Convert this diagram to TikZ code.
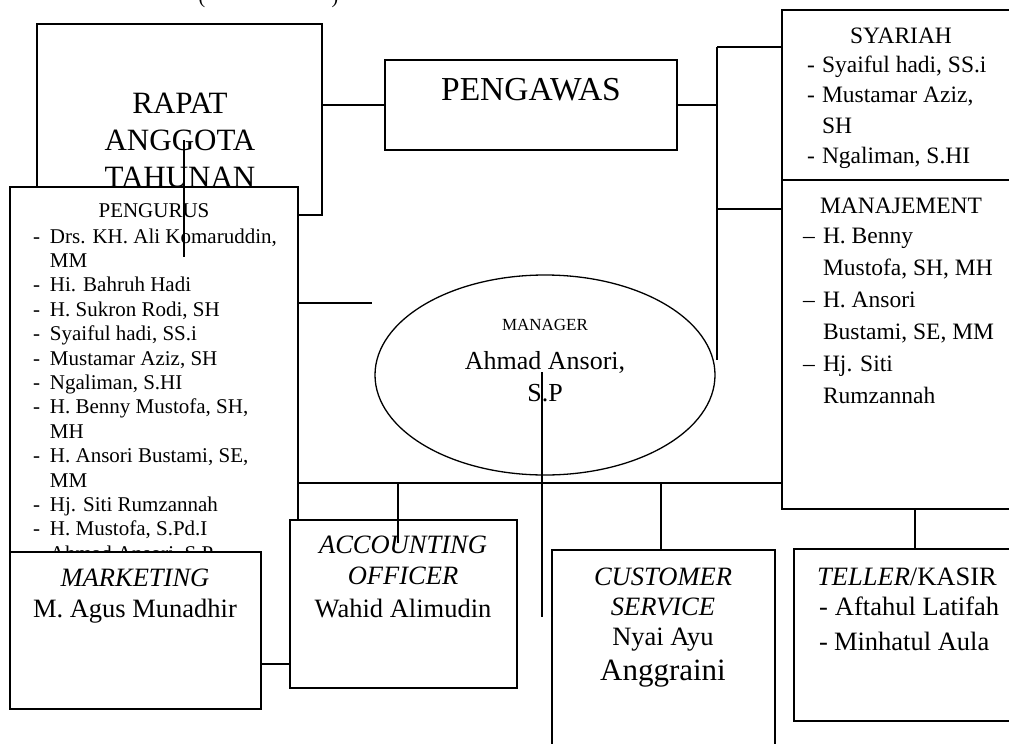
\documentclass[tikz,border=0pt]{standalone}
\usepackage{fontspec}
\setmainfont{Liberation Serif}
\usetikzlibrary{shapes.geometric}
\newcommand{\dl}[2][17pt]{\makebox[#1][l]{-}#2}
\newcommand{\ndl}[1]{\makebox[20pt][l]{\textendash}#1}
\newcommand{\cl}[2][17pt]{\hspace*{#1}#2}
\newcommand{\fs}[2]{\fontsize{#1}{#2}\selectfont}
\begin{document}
\begin{tikzpicture}[x=1pt,y=-1pt,line width=1.3pt,
  box/.style={draw,fill=white,rectangle,inner sep=0pt,outer sep=0pt,anchor=north west},
  txt/.style={inner sep=0pt,outer sep=0pt,anchor=base},
  ltxt/.style={inner sep=0pt,outer sep=0pt,anchor=base west}]
\useasboundingbox (0,0) rectangle (1009,744);
% top partial title parentheses
\node[txt] (lp) at (202,4) {\fs{20}{24}(};
\node[txt] (rp) at (335,4) {\fs{20}{24})};
% Rapat
\node[box,minimum width=285pt,minimum height=191pt] (rapat) at (37,24) {};
\node[txt] (rapatT) at (180,113) {\parbox[t]{250pt}{\centering\fs{31}{37}RAPAT\\ANGGOTA\\TAHUNAN}};
% Pengawas
\node[box,minimum width=292pt,minimum height=90pt] (pengawas) at (385,60) {};
\node[txt] (pengawasT) at (531,100) {\fs{33.5}{38}PENGAWAS};
% Syariah / Manajement
\node[box,minimum width=238pt,minimum height=170pt] (syariah) at (782,10) {};
\node[txt] (syariahT) at (901,43) {\fs{23.5}{30}SYARIAH};
\node[ltxt] (syariahL) at (807,72) {\parbox[t]{200pt}{\fs{23.5}{30.5}\dl[15pt]{Syaiful hadi, SS.i}\\\dl[15pt]{Mustamar Aziz,}\\\cl[15pt]{SH}\\\dl[15pt]{Ngaliman, S.HI}}};
\node[box,minimum width=238pt,minimum height=329pt] (manaj) at (782,180) {};
\node[txt] (manajT) at (901,213) {\fs{23.5}{30}MANAJEMENT};
\node[ltxt] (manajL) at (803,243) {\parbox[t]{200pt}{\fs{23.5}{32}\ndl{H. Benny}\\\cl[20pt]{Mustofa, SH, MH}\\\ndl{H. Ansori}\\\cl[20pt]{Bustami, SE, MM}\\\ndl{Hj. Siti}\\\cl[20pt]{Rumzannah}}};
% Pengurus
\node[box,minimum width=288pt,minimum height=477pt] (pengurus) at (10,187) {};
\node[txt] (pengurusT) at (154,217) {\fs{21}{24.4}PENGURUS};
\node[ltxt] (pengurusL) at (33,243) {\parbox[t]{262pt}{\fs{21}{24.4}\dl{Drs. KH. Ali Komaruddin,}\\\cl{MM}\\\dl{Hi. Bahruh Hadi}\\\dl{H. Sukron Rodi, SH}\\\dl{Syaiful hadi, SS.i}\\\dl{Mustamar Aziz, SH}\\\dl{Ngaliman, S.HI}\\\dl{H. Benny Mustofa, SH,}\\\cl{MH}\\\dl{H. Ansori Bustami, SE,}\\\cl{MM}\\\dl{Hj. Siti Rumzannah}\\\dl{H. Mustofa, S.Pd.I}\\\dl{Ahmad Ansori, S.P}}};
% Manager
\node[draw,ellipse,minimum width=340pt,minimum height=200pt,inner sep=0pt] (mgr) at (545,375) {};
\node[txt] (mgrT) at (545,330) {\fs{17}{20}MANAGER};
\node[txt] (mgrN) at (545,369) {\parbox[t]{200pt}{\centering\fs{26}{32}Ahmad Ansori,\\S.P}};
% Bottom boxes
\node[box,minimum width=251pt,minimum height=157pt] (marketing) at (10,552) {};
\node[txt] (marketingT) at (135,586) {\parbox[t]{240pt}{\centering\fs{26.5}{31}\textit{MARKETING}\\M. Agus Munadhir}};
\node[box,minimum width=227pt,minimum height=168pt] (accounting) at (290,520) {};
\node[txt] (accountingT) at (403,553) {\parbox[t]{220pt}{\centering\fs{26.5}{31}\textit{ACCOUNTING}\\\textit{OFFICER}\\[2pt]Wahid Alimudin}};
\node[box,minimum width=223pt,minimum height=220pt] (cs) at (552,550) {};
\node[txt] (csT) at (663,585) {\parbox[t]{215pt}{\centering\fs{26.5}{30}\textit{CUSTOMER}\\\textit{SERVICE}\\Nyai Ayu\\[5pt]{\fs{31}{37}Anggraini}}};
\node[box,minimum width=226pt,minimum height=172pt] (teller) at (794,549) {};
\node[txt] (tellerT) at (907,585) {\fs{26.5}{30}\textit{TELLER}/KASIR};
\node[ltxt] (tellerL) at (819,615) {\parbox[t]{190pt}{\fs{26.5}{35}\dl[16pt]{Aftahul Latifah}\\\dl[15pt]{Minhatul Aula}}};
% connectors
\coordinate (rtop) at (717,47);
\coordinate (rmid) at (717,209);
\coordinate (rbot) at (717,360);
\coordinate (pv1) at (184,140);
\coordinate (pv2) at (184,257);
\coordinate (pm) at (372,303);
\coordinate (bus) at (0,483);
\coordinate (accTop) at (398,543);
\coordinate (mv1) at (542,372);
\coordinate (mv2) at (542,617);
\coordinate (tx) at (915,0);
\coordinate (csx) at (661,0);
\coordinate (mk) at (0,664);
\draw (pengawas.west -| rapat.east) -- (pengawas.west);
\draw (pengawas.east) -- (pengawas.east -| rtop);
\draw (rtop) -- (rbot);
\draw (rtop) -- (rtop -| syariah.west);
\draw (rmid) -- (rmid -| manaj.west);
\draw (pv1) -- (pv2);
\draw (pm -| pengurus.east) -- (pm);
\draw (pengurus.east |- bus) -- (manaj.west |- bus);
\draw (accTop |- bus) -- (accTop);
\draw (csx |- bus) -- (csx |- cs.north);
\draw (tx |- manaj.south) -- (tx |- teller.north);
\draw (mv1) -- (mv2);
\draw (marketing.east |- mk) -- (accounting.west |- mk);
\end{tikzpicture}
\end{document}
